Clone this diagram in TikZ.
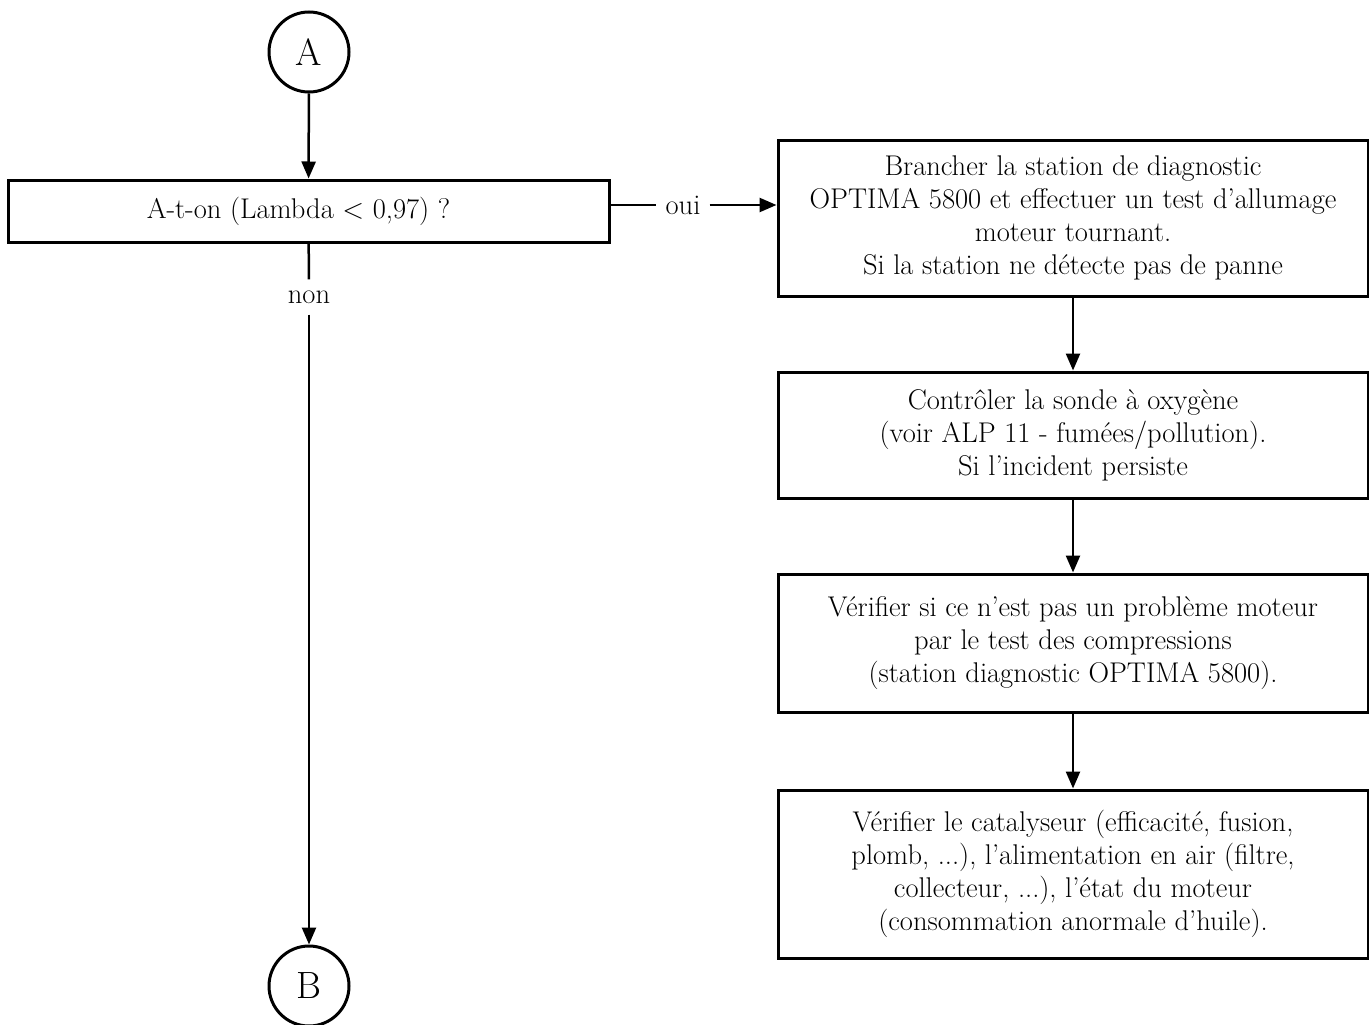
\documentclass[tikz,border=0pt]{standalone}
\usetikzlibrary{arrows.meta}
\begin{document}
\begin{tikzpicture}[x=1pt, y=-1pt,
    etape/.style={draw, line width=3pt, align=center, inner sep=0pt,
        font=\fontsize{28.5}{33}\selectfont},
    renvoi/.style={draw, circle, line width=3pt, minimum size=80pt, inner sep=0pt,
        font=\fontsize{38}{40}\selectfont},
    reponse/.style={font=\fontsize{28.5}{33}\selectfont, inner xsep=9pt, inner ysep=11pt},
    trait/.style={line width=2.5pt},
    fleche/.style={line width=2.5pt, -{Triangle[length=17pt,width=14pt]}}]
    \useasboundingbox (0,0) rectangle (1369,1025);

    % renvois de page
    \node[renvoi] (A) at (309,52) {A};
    \node[renvoi] (B) at (309,986) {B};

    % question
    \node[etape, minimum width=601pt, minimum height=62pt] (test) at (308.5,211)
        {A-t-on (Lambda \textless{} 0,97) ?\hspace*{20pt}};
    \node[reponse] (oui) at (683,205) {oui};
    \node[reponse] (non) at (309,297) {non};

    % branche oui
    \node[etape, minimum width=590pt, minimum height=156pt] (station) at (1073,218)
        {Brancher la station de diagnostic\\
         OPTIMA 5800 et effectuer un test d'allumage\\
         moteur tournant.\\
         Si la station ne détecte pas de panne};
    \node[etape, minimum width=590pt, minimum height=126pt] (sonde) at (1073,435)
        {Contrôler la sonde à oxygène\\
         (voir ALP 11 - fumées/pollution).\\
         Si l'incident persiste};
    \node[etape, minimum width=590pt, minimum height=138pt] (compression) at (1073,643)
        {Vérifier si ce n'est pas un problème moteur\\
         par le test des compressions\\
         (station diagnostic OPTIMA 5800).};
    \node[etape, minimum width=590pt, minimum height=168pt] (catalyseur) at (1073,874)
        {Vérifier le catalyseur (efficacité, fusion,\\
         plomb, ...), l'alimentation en air (filtre,\\
         collecteur, ...), l'état du moteur\\
         (consommation anormale d'huile).};

    % liaisons
    \draw[fleche] (A) -- (test);
    \draw[trait] (test.east |- oui) -- (oui.west);
    \draw[fleche] (oui.east) -- (oui.east -| station.west);
    \draw[trait] (test) -- (non);
    \draw[fleche] (non) -- (B);
    \draw[fleche] (station) -- (sonde);
    \draw[fleche] (sonde) -- (compression);
    \draw[fleche] (compression) -- (catalyseur);
\end{tikzpicture}
\end{document}
